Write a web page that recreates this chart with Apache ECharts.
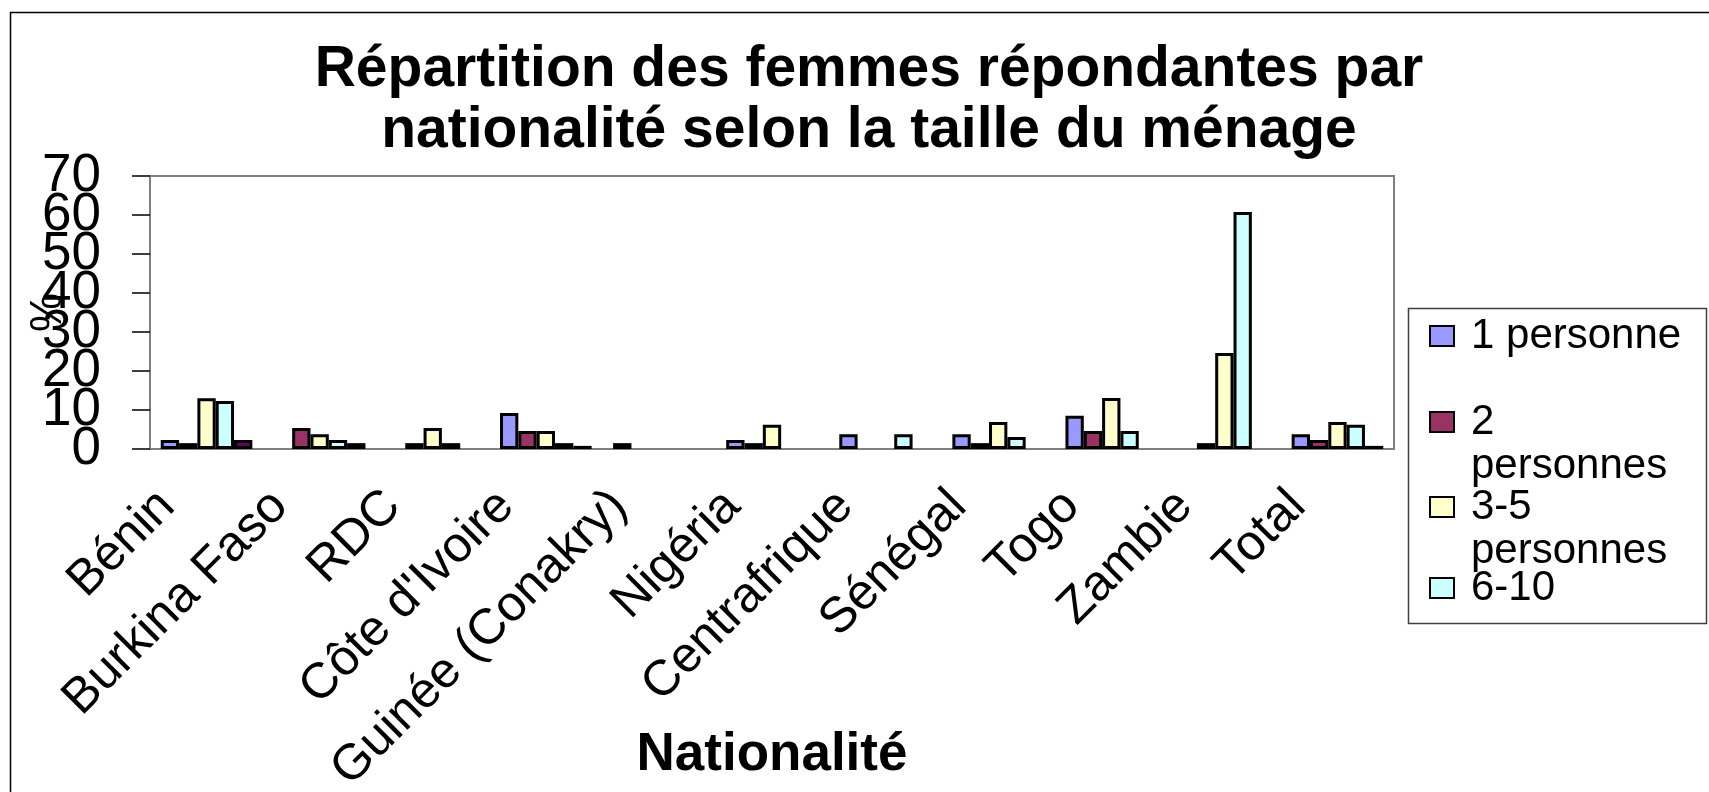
<!DOCTYPE html>
<html>
<head>
<meta charset="utf-8">
<title>Répartition des femmes répondantes</title>
<script src="https://cdn.jsdelivr.net/npm/echarts@6/dist/echarts.min.js"></script>
<style>
    body { margin: 0; background: #ffffff; }
    #chart { width: 1709px; height: 792px; }
</style>
</head>
<body>
<div id="chart"></div>
<script>
//数据
const pays = ["Bénin", "Burkina Faso", "RDC", "Côte d'Ivoire", "Guinée (Conakry)", "Nigéria",
    "Centrafrique", "Sénégal", "Togo", "Zambie", "Total"];
const noms = ["1 personne", "2 personnes", "3-5 personnes", "6-10", "11 et plus"];
const une = [2.3, null, null, 9.2, 1.5, 2.3, 3.8, 3.8, 8.5, null, 3.8];
const deux = [1.5, 5.4, 1.5, 4.6, null, 1.5, null, 1.5, 4.6, 1.5, 2.3];
const troisCinq = [13.0, 3.8, 5.4, 4.6, null, 6.2, null, 6.9, 13.1, 24.6, 6.9];
const sixDix = [12.3, 2.3, 1.5, 1.5, null, null, 3.8, 3.1, 4.6, 60.8, 6.2];
const onzePlus = [2.3, 1.5, null, 0.8, null, null, null, null, null, null, 0.8];
const yTicks = [0, 10, 20, 30, 40, 50, 60, 70];

const couleurs = ["#9999ff", "#993366", "#ffffcc", "#ccffff", "#660066"];
const valeurs = [une, deux, troisCinq, sixDix, onzePlus];
const police = "'Liberation Sans', Arial, sans-serif";
const yMin = yTicks[0];
const yMax = yTicks[yTicks.length - 1];

const series = valeurs.map(function (d, i) {
    return {
        name: noms[i],
        type: 'bar',
        data: d,
        barGap: '0%',
        barCategoryGap: '19%',
        itemStyle: { color: couleurs[i], borderColor: '#000', borderWidth: 3 }
    };
});

//legend : une par ligne pour placer chaque item
const legTops = [314, 356, 441, 566];
const legend = noms.slice(0, 4).map(function (n, i) {
    return {
        data: [n],
        orient: 'vertical',
        left: 1429,
        top: legTops[i],
        padding: 0,
        icon: 'rect',
        itemWidth: 24,
        itemHeight: 20,
        selectedMode: false,
        formatter: function (name) {
            return (i === 1 || i === 2) ? '\n' + name.replace(' ', '\n') : name;
        },
        textStyle: { fontFamily: police, fontSize: 42, lineHeight: 44, color: '#000', padding: [0, 0, 0, 12] }
    };
});

//axe y : les labels 0 et 70 sont sur un 2e axe superposé (sinon echarts cache 10 et 60)
const yLabel = { margin: 49, hideOverlap: false, fontFamily: police, fontSize: 53, color: '#000' };
const yLine = { show: true, lineStyle: { color: '#808080', width: 2 } };
const yTick = { show: true, length: 18, lineStyle: { color: '#000', width: 1.5 } };

const myChart = echarts.init(document.getElementById('chart'));
const option = {
    animation: false,
    backgroundColor: '#fff',
    title: {
        text: 'Répartition des femmes répondantes par\nnationalité selon la taille du ménage',
        left: 869,
        textAlign: 'center',
        top: 40,
        padding: 0,
        textStyle: { fontFamily: police, fontSize: 57, fontWeight: 'bold', lineHeight: 61, color: '#000' }
    },
    legend: legend,
    grid: {
        left: 150, right: 315, top: 176, bottom: 343,
        show: true, borderColor: '#808080', borderWidth: 2,
        outerBoundsMode: 'none'
    },
    xAxis: {
        type: 'category',
        data: pays,
        name: 'Nationalité',
        nameLocation: 'middle',
        nameGap: 280,
        nameMoveOverlap: false,
        nameTextStyle: { fontFamily: police, fontSize: 53, fontWeight: 'bold', color: '#000' },
        axisLine: { lineStyle: { color: '#808080', width: 2 } },
        axisTick: { length: 14, lineStyle: { color: '#555', width: 1.5 } },
        axisLabel: {
            interval: 0,
            rotate: 45,
            margin: 10,
            padding: [0, 56, 0, 0],
            hideOverlap: false,
            fontFamily: police,
            fontSize: 50,
            color: '#000'
        }
    },
    yAxis: [
        {
            type: 'value',
            position: 'left',
            min: yMin,
            max: yMax,
            interval: 10,
            name: '%',
            nameLocation: 'middle',
            nameGap: 79,
            nameRotate: 90,
            nameMoveOverlap: false,
            nameTextStyle: { fontFamily: police, fontSize: 44, color: '#000' },
            splitLine: { show: false },
            axisLine: yLine,
            axisTick: yTick,
            axisLabel: Object.assign({ showMinLabel: false, showMaxLabel: false }, yLabel)
        },
        {
            type: 'value',
            position: 'left',
            min: yMin,
            max: yMax,
            interval: yMax - yMin,
            splitLine: { show: false },
            axisLine: yLine,
            axisTick: yTick,
            axisLabel: Object.assign({ showMinLabel: true, showMaxLabel: true }, yLabel)
        }
    ],
    graphic: [
        {
            type: 'rect',
            shape: { x: 10.5, y: 12.5, width: 1720, height: 800 },
            style: { fill: 'none', stroke: '#000', lineWidth: 1.5 },
            silent: true
        },
        {
            type: 'rect',
            shape: { x: 1408.5, y: 308.5, width: 298, height: 315 },
            style: { fill: 'none', stroke: '#404040', lineWidth: 1.5 },
            silent: true
        }
    ],
    series: series
};
myChart.setOption(option);
window.addEventListener('resize', function () {
    myChart.resize();
});
</script>
</body>
</html>
